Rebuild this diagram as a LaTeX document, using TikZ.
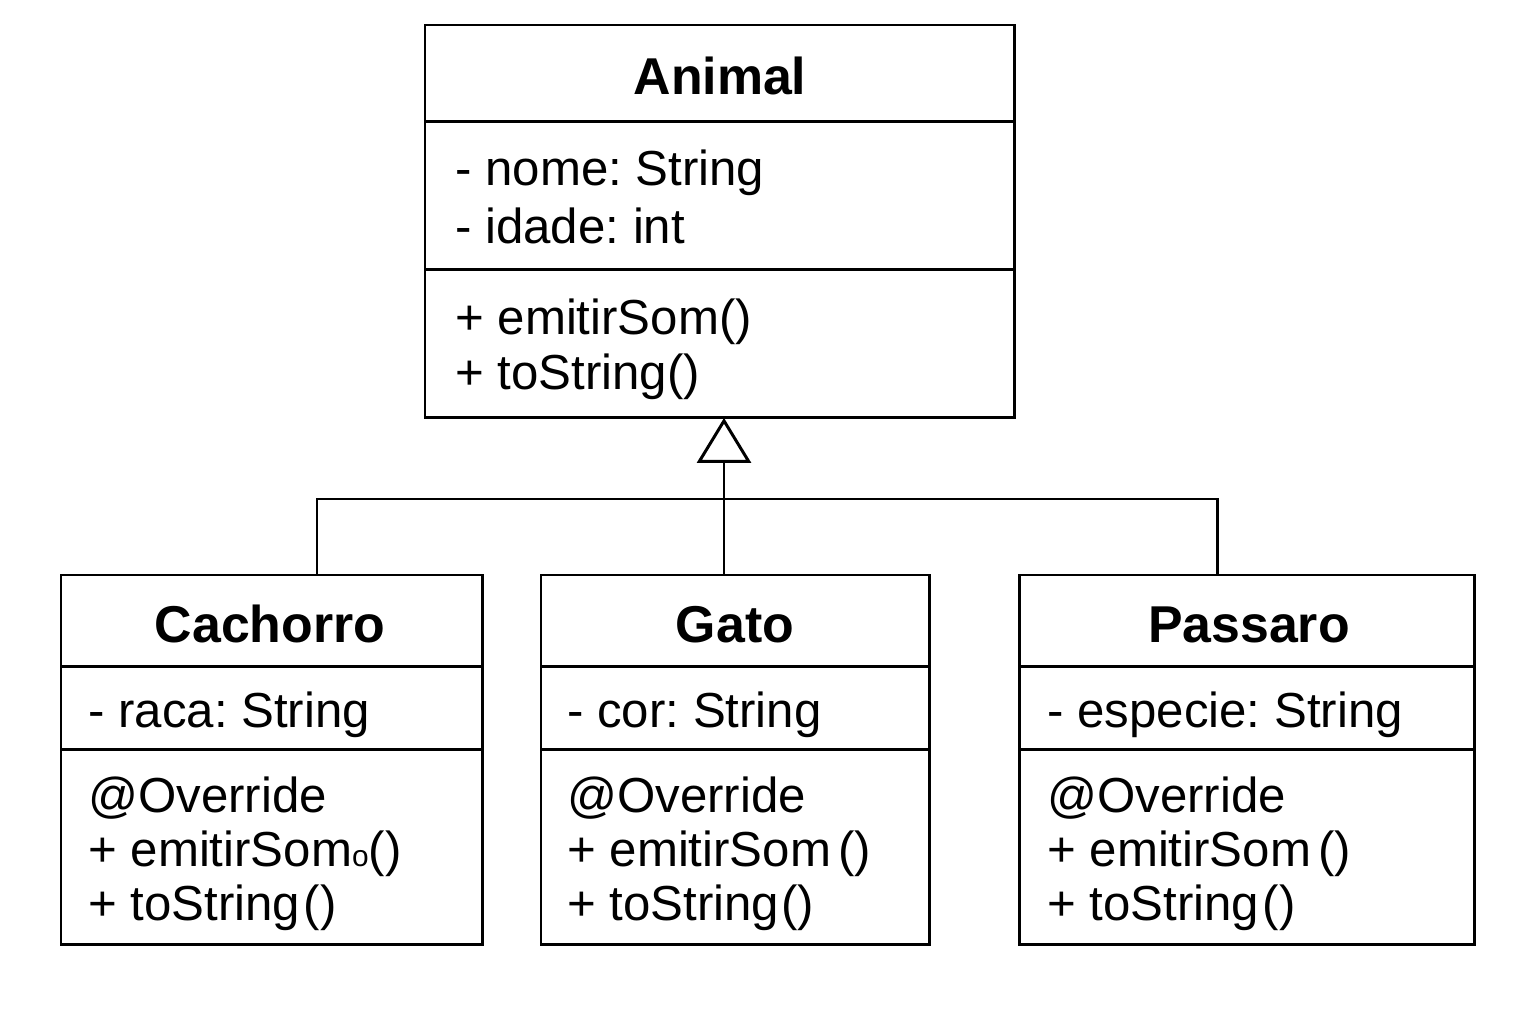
\documentclass[tikz,border=0pt]{standalone}
\usepackage{fontspec}
\setmainfont{Liberation Sans}
\frenchspacing
\usetikzlibrary{positioning,arrows.meta}

\tikzset{
  umlbox/.style={draw,line width=1.7pt,inner sep=0pt,outer sep=0pt,anchor=north west},
  classname/.style={font=\bfseries\fontsize{29.5}{32}\selectfont,anchor=base,inner sep=0pt},
  member/.style={font=\fontsize{28}{31}\selectfont,anchor=base west,inner sep=0pt},
  link/.style={line width=1.7pt}
}

\begin{document}
\begin{tikzpicture}[x=0.02cm,y=-0.02cm]
        \useasboundingbox (0,0) rectangle (1536,1024);

        % Animal
        \node [umlbox,minimum width=11.8cm,minimum height=1.94cm] at (425,25) (animal-t){};
        \node [umlbox,minimum width=11.8cm,minimum height=2.96cm] at (animal-t.south west) (animal-a){};
        \node [umlbox,minimum width=11.8cm,minimum height=2.96cm] at (animal-a.south west) (animal-m){};
        \node [classname] at (720,95) (animal-name){Animal};
        \node [member] at (455,186) (animal-nome){- nome: String};
        \node [member] at (455,243) (animal-idade){- idade: int};
        \node [member] at (455,334) (animal-som){+ emitirSom()};
        \node [member] at (455,389) (animal-str){+ toString()};

        % Cachorro
        \node [umlbox,minimum width=8.44cm,minimum height=1.84cm] at (61,575) (cachorro-t){};
        \node [umlbox,minimum width=8.44cm,minimum height=1.66cm] at (cachorro-t.south west) (cachorro-a){};
        \node [umlbox,minimum width=8.44cm,minimum height=3.9cm] at (cachorro-a.south west) (cachorro-m){};
        \node [classname] at (270,642) (cachorro-name){Cachorro};
        \node [member] at (88,727) (cachorro-raca){- raca: String};
        \node [member] at (88,812) (cachorro-ovr){@Override};
        \node [member] at (88,866) (cachorro-som){+ emitirSom{\fontsize{17}{17}\selectfont o}()};
        \node [member] at (88,920) (cachorro-str){+ toString\kern2pt()};

        % Gato
        \node [umlbox,minimum width=7.78cm,minimum height=1.84cm] at (541,575) (gato-t){};
        \node [umlbox,minimum width=7.78cm,minimum height=1.66cm] at (gato-t.south west) (gato-a){};
        \node [umlbox,minimum width=7.78cm,minimum height=3.9cm] at (gato-a.south west) (gato-m){};
        \node [classname] at (735,642) (gato-name){Gato};
        \node [member] at (567,727) (gato-cor){- cor: String};
        \node [member] at (567,812) (gato-ovr){@Override};
        \node [member] at (567,866) (gato-som){+ emitirSom\kern4pt()};
        \node [member] at (567,920) (gato-str){+ toString\kern1pt()};

        % Passaro
        \node [umlbox,minimum width=9.12cm,minimum height=1.84cm] at (1019,575) (passaro-t){};
        \node [umlbox,minimum width=9.12cm,minimum height=1.66cm] at (passaro-t.south west) (passaro-a){};
        \node [umlbox,minimum width=9.12cm,minimum height=3.9cm] at (passaro-a.south west) (passaro-m){};
        \node [classname] at (1249,642) (passaro-name){Passaro};
        \node [member] at (1047,727) (passaro-esp){- especie: String};
        \node [member] at (1047,812) (passaro-ovr){@Override};
        \node [member] at (1047,866) (passaro-som){+ emitirSom\kern4pt()};
        \node [member] at (1047,920) (passaro-str){+ toString\kern2pt()};

        % heranca
        \coordinate (hub) at (724,499);
        \coordinate (jleft) at (317,499);
        \coordinate (jright) at (1217,499);
        \draw [link] (jleft |- cachorro-t.north) -- (jleft) -- (jright) -- (jright |- passaro-t.north);
        \draw [link] (hub |- gato-t.north) -- (hub);
        \draw [link,-{Triangle[open,length=0.9cm,width=1.08cm]}] (hub) -- (hub |- animal-m.south);
      \end{tikzpicture}
\end{document}
